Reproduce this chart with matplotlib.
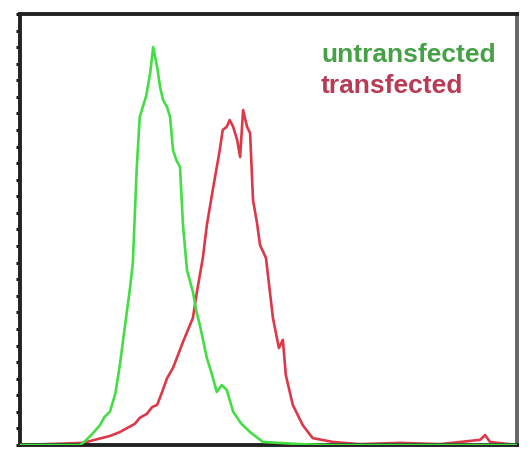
import numpy as np
import matplotlib
matplotlib.use('Agg')
import matplotlib.pyplot as plt

# ─── Data (channel on x, % of max count on y) ───
green_x = [0, 12.1, 13.1, 14.5, 16.1, 17.0, 18.1, 19.2, 20.1, 21.5, 22.1, 22.7, 23.5,
           24.1, 24.7, 25.4, 26.2, 26.8, 27.6, 28.2, 28.8, 29.6, 30.2, 30.8, 31.5,
           32.2, 32.8, 33.6, 34.8, 35.5, 36.2, 37.6, 38.6, 39.6, 40.6, 41.6, 42.9,
           44.5, 46.3, 48.9, 52.0, 56.3, 62.4, 100]
green_y = [0, 0, 0.9, 2.5, 4.6, 6.5, 7.7, 12.0, 18.6, 30.9, 36.0, 42.1, 64.5,
           76.1, 78.4, 81.0, 86.3, 92.3, 87.7, 83.0, 80.0, 78.4, 76.1, 68.4, 66.0,
           64.5, 51.0, 40.6, 35.5, 31.0, 27.8, 20.2, 16.5, 12.3, 13.9, 12.8, 7.7,
           5.0, 3.0, 0.7, 0.5, 0.2, 0, 0]

red_x = [0, 12.7, 18.1, 20.1, 21.5, 23.1, 24.1, 25.5, 26.6, 27.6, 28.6, 29.6,
         30.8, 31.8, 32.8, 33.8, 34.8, 35.6, 36.8, 37.6, 38.8, 40.2, 40.8, 41.6,
         42.2, 42.9, 43.7, 44.3, 44.9, 45.7, 46.3, 46.9, 47.7, 48.3, 49.5, 50.9,
         52.1, 52.9, 53.5, 54.9, 56.9, 58.9, 63.0, 68.4, 76.5, 84.5, 92.6, 93.6,
         94.6, 100]
red_y = [0, 0.5, 2.1, 3.0, 3.9, 4.9, 6.3, 7.2, 8.8, 9.3, 12.3, 15.5,
         17.9, 20.9, 23.9, 26.7, 29.5, 35.5, 43.4, 51.0, 59.2, 68.4, 73.1, 73.8,
         75.4, 73.8, 70.8, 66.8, 77.7, 73.8, 72.4, 56.8, 51.5, 46.4, 43.4, 29.5,
         22.5, 24.4, 16.2, 9.3, 4.6, 1.6, 0.7, 0.2, 0.5, 0.2, 1.2, 2.3, 0.7, 0]

legend_labels = ['untransfected', 'transfected']

plt.rcParams['font.family'] = ['Liberation Sans', 'DejaVu Sans']

fig = plt.figure(figsize=(5.32, 4.49), dpi=100)
ax = fig.add_axes([0.0376, 0.0089, 0.934, 0.96])

ax.plot(green_x, green_y, color='#44dd44', linewidth=1.9, zorder=3)
ax.plot(red_x, red_y, color='#dc3848', linewidth=1.9, zorder=2)

ax.set_xlim(0, 100)
ax.set_ylim(0, 100)
ax.set_yticks(np.linspace(0, 100, 27))
ax.set_yticklabels([])
ax.set_xticks([])
ax.tick_params(axis='y', direction='out', length=3, width=2.2, color='#111111')

for side in ['left', 'top', 'bottom']:
    ax.spines[side].set_linewidth(2.8)
    ax.spines[side].set_color('#222222')
ax.spines['right'].set_linewidth(2.8)
ax.spines['right'].set_color('#666666')

ax.text(0.606, 0.889, legend_labels[0], transform=ax.transAxes, color='#46a046',
        fontsize=19, fontweight='bold', ha='left', va='baseline')
ax.text(0.606, 0.817, legend_labels[1], transform=ax.transAxes, color='#b83a55',
        fontsize=19, fontweight='bold', ha='left', va='baseline')

plt.savefig('out.png', dpi=100)
plt.close()
